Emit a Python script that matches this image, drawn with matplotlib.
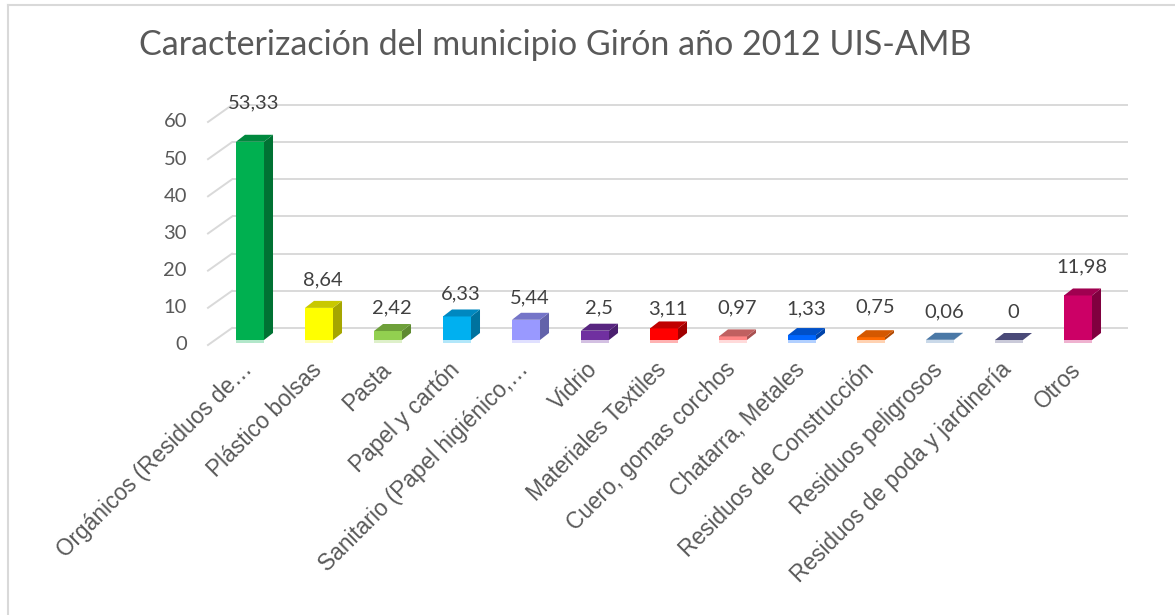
import matplotlib
matplotlib.use("Agg")
import matplotlib.pyplot as plt
from matplotlib.patches import Polygon
from matplotlib.lines import Line2D

# ---- data ----
categorias = ["Orgánicos (Residuos de…", "Plástico bolsas", "Pasta", "Papel y cartón",
              "Sanitario (Papel higiénico,…", "Vidrio", "Materiales Textiles",
              "Cuero, gomas corchos", "Chatarra, Metales", "Residuos de Construcción",
              "Residuos peligrosos", "Residuos de poda y jardinería", "Otros"]
valores = [53.33, 8.64, 2.42, 6.33, 5.44, 2.5, 3.11, 0.97, 1.33, 0.75, 0.06, 0, 11.98]
ticks_y = [0, 10, 20, 30, 40, 50, 60]
titulo = "Caracterización del municipio Girón año 2012 UIS-AMB"

# ---- style ----
c_front = ["#00B050", "#FFFF00", "#92D050", "#00B0F0", "#9999FF", "#7030A0", "#FF0000",
           "#FF8585", "#0066FF", "#FF6A00", "#5282B8", "#525282", "#CC0066"]
c_top = ["#00893E", "#C8C800", "#6EA03A", "#0088C0", "#7474C8", "#582580", "#C00000",
         "#C06060", "#0050C8", "#D45800", "#4A78A6", "#4A4A78", "#A00050"]
c_side = ["#007233", "#A6A600", "#5E8A30", "#00729E", "#6262AA", "#4A1F6E", "#A00000",
          "#A85050", "#0044AA", "#B04800", "#3E6690", "#3E3E66", "#80003F"]
lab_off = [39, 28, 23, 23, 22, 23, 20, 29, 26, 30, 28, 28, 28.5]  # px above bar top

W, H = 1175, 615
X0, DXC = 250, 69      # px of first category centre, px per category
Y0, PXU = 340, 3.717   # px row of value 0 (bar plane), px per unit
GRAY = "#595959"

fig = plt.figure(figsize=(W / 100, H / 100), dpi=100)
ax = fig.add_axes([(X0 - 0.5 * DXC) / W, (H - Y0) / H, 13 * DXC / W, 60 * PXU / H])
ax.set_xlim(-0.5, 12.5)
ax.set_ylim(0, 60)
ax.axis("off")


def dx(px):
    return px / DXC


def dy(px):
    return px / PXU


# back wall gridlines, left edge diagonals and tick labels
for t in ticks_y:
    yb = t + dy(12)
    ax.plot([dx(232 - X0), dx(1128 - X0)], [yb, yb], color="#D9D9D9", lw=1.4,
            clip_on=False, zorder=1, solid_capstyle="butt")
    ax.plot([dx(208 - X0), dx(232 - X0)], [t - dy(5), yb], color="#D9D9D9", lw=1.4,
            clip_on=False, zorder=1)
    ax.text(dx(187 - X0), t - dy(5), str(t), ha="right", va="center",
            fontsize=14.5, family="Lato", color=GRAY)

hw = 0.203
ddx, ddy = dx(9), dy(7)
xs = list(range(len(valores)))
# reflections
ax.bar(xs, [-dy(3)] * len(xs), width=2 * hw, color=c_front, alpha=0.3,
       linewidth=0, clip_on=False, zorder=2)
# front faces
ax.bar(xs, valores, width=2 * hw, color=c_front, linewidth=0, zorder=3, clip_on=False)
for i, v in enumerate(valores):
    side = Polygon([(i + hw, 0), (i + hw + ddx, ddy), (i + hw + ddx, v + ddy), (i + hw, v)],
                   closed=True, facecolor=c_side[i], edgecolor="none", zorder=3, clip_on=False)
    top = Polygon([(i - hw, v), (i + hw, v), (i + hw + ddx, v + ddy), (i - hw + ddx, v + ddy)],
                  closed=True, facecolor=c_top[i], edgecolor="none", zorder=4, clip_on=False)
    ax.add_patch(side)
    ax.add_patch(top)
    etiqueta = f"{v:g}".replace(".", ",")
    ax.text(i + dx(4), v + dy(lab_off[i]), etiqueta, ha="center", va="center",
            fontsize=14.5, family="Lato", color="#404040", zorder=5)
    ax.text(i - dx(9), -dy(18), categorias[i], rotation=45, ha="right", va="top",
            rotation_mode="anchor", fontsize=16.3, family="Liberation Sans", color=GRAY)

fig.text(555 / W, 1 - 55 / H, titulo, ha="center", va="baseline", fontsize=24.5,
         family="Lato", color=GRAY)

# chart frame
fig.add_artist(Line2D([8 / W, 8 / W], [0, 1 - 5 / H], color="#D9D9D9", lw=1.5))
fig.add_artist(Line2D([8 / W, 1], [1 - 5 / H, 1 - 5 / H], color="#D9D9D9", lw=1.5))

fig.savefig("out.png", dpi=100)
